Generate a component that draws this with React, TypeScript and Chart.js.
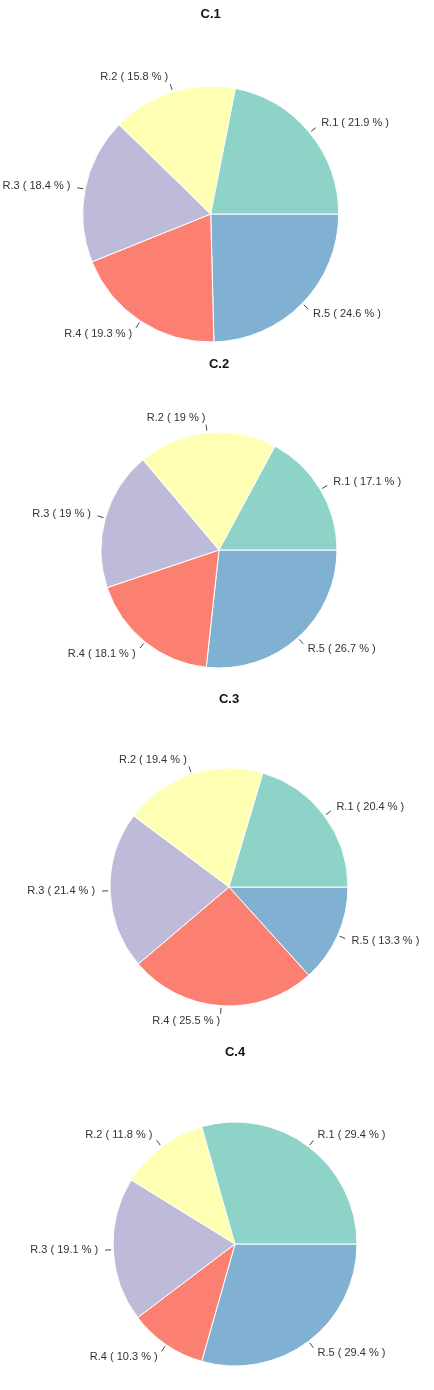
import React, { useEffect, useRef } from "react";
import { Chart, registerables } from "chart.js";

Chart.register(...registerables);

// categories and values (percent) per chart
const categories = ["R.1", "R.2", "R.3", "R.4", "R.5"];
const titles = ["C.1", "C.2", "C.3", "C.4"];
const c1Values = [21.9, 15.8, 18.4, 19.3, 24.6];
const c2Values = [17.1, 19, 19, 18.1, 26.7];
const c3Values = [20.4, 19.4, 21.4, 25.5, 13.3];
const c4Values = [29.4, 11.8, 19.1, 10.3, 29.4];
const colors = ["#8dd3c7", "#ffffb3", "#bebada", "#fb8072", "#80b1d3"];

const FONT = "'Liberation Sans', Arial, Helvetica, sans-serif";

// panel layout: height of the panel, title center y, pie center x/y, radius
const panels = [
  { values: c1Values, h: 345, titleY: 14, cx: 210.7, cy: 214, r: 128 },
  { values: c2Values, h: 335, titleY: 19, cx: 219, cy: 205, r: 118 },
  { values: c3Values, h: 350, titleY: 19, cx: 229, cy: 207, r: 119 },
  { values: c4Values, h: 360, titleY: 22, cx: 235, cy: 214, r: 122 },
];

// labels outside the pie with a short tick line
const outerLabels = {
  id: "outerLabels",
  afterDatasetsDraw(chart: any) {
    const ctx = chart.ctx;
    const meta = chart.getDatasetMeta(0);
    const ds = chart.data.datasets[0];
    const total = ds.data.reduce((a: number, b: number) => a + b, 0);
    ctx.save();
    ctx.font = `11px ${FONT}`;
    ctx.fillStyle = "#333";
    ctx.strokeStyle = "#444";
    ctx.lineWidth = 1;
    ctx.textBaseline = "middle";
    meta.data.forEach((arc: any, i: number) => {
      const { x, y, startAngle, endAngle, outerRadius } = arc.getProps(
        ["x", "y", "startAngle", "endAngle", "outerRadius"],
        true
      );
      const mid = (startAngle + endAngle) / 2;
      const c = Math.cos(mid);
      const s = Math.sin(mid);
      ctx.beginPath();
      ctx.moveTo(x + c * (outerRadius + 2), y + s * (outerRadius + 2));
      ctx.lineTo(x + c * (outerRadius + 8), y + s * (outerRadius + 8));
      ctx.stroke();
      const pct = Number(((ds.data[i] / total) * 100).toFixed(1));
      const text = `${chart.data.labels[i]} ( ${pct} % )`;
      ctx.textAlign = c >= 0 ? "left" : "right";
      ctx.fillText(text, x + c * (outerRadius + 15), y + s * (outerRadius + 15));
    });
    ctx.restore();
  },
};

function PiePanel({ idx }: { idx: number }) {
  const canvasRef = useRef<HTMLCanvasElement>(null);
  const p = panels[idx];

  useEffect(() => {
    if (!canvasRef.current) return;
    const fontSize = 13;
    const lineH = fontSize * 1.2;
    const padTop = p.titleY - lineH / 2;
    const padBottom = 2 * p.cy - p.h - padTop - lineH;
    const shift = 2 * (p.cx - 217);

    // slices go counter-clockwise from 3 o'clock: R.1 ... R.5
    const order = [4, 3, 2, 1, 0];
    const chart = new Chart(canvasRef.current, {
      type: "pie",
      data: {
        labels: order.map((i) => categories[i]),
        datasets: [
          {
            data: order.map((i) => p.values[i]),
            backgroundColor: order.map((i) => colors[i]),
            borderColor: "#ffffff",
            borderWidth: 1,
          },
        ],
      },
      options: {
        animation: false,
        responsive: true,
        maintainAspectRatio: false,
        rotation: 90,
        radius: p.r,
        layout: {
          padding: {
            left: Math.max(0, shift),
            right: Math.max(0, -shift),
            top: 0,
            bottom: 0,
          },
        },
        plugins: {
          legend: { display: false },
          tooltip: { enabled: false },
          title: {
            display: true,
            text: titles[idx],
            color: "#111",
            font: { family: FONT, size: fontSize, weight: "bold" },
            padding: { top: padTop, bottom: padBottom },
          },
        },
      },
      plugins: [outerLabels],
    });
    return () => chart.destroy();
  }, [idx]);

  return (
    <div style={{ position: "relative", width: "100%", height: p.h }}>
      <canvas ref={canvasRef} />
    </div>
  );
}

export default function App() {
  return (
    <div style={{ width: 434, background: "#fff" }}>
      <style>{`body { margin: 0; background: #fff; }`}</style>
      {panels.map((_, i) => (
        <PiePanel key={i} idx={i} />
      ))}
    </div>
  );
}
